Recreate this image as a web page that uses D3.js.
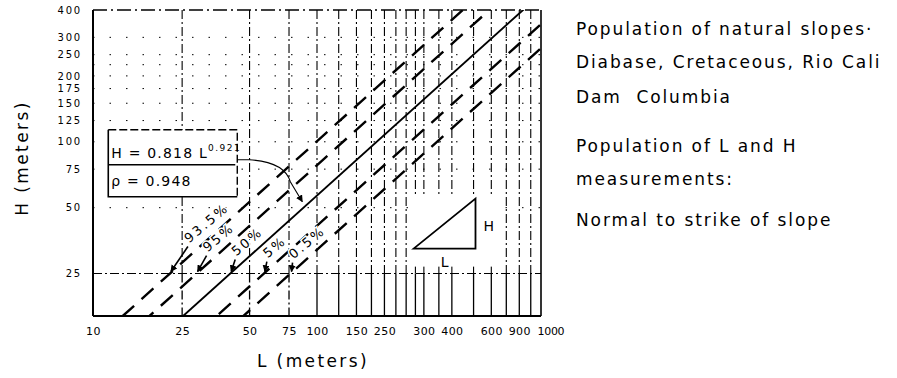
<!DOCTYPE html>
<html>
<head>
<meta charset="utf-8">
<script src="https://cdn.jsdelivr.net/npm/d3@7"></script>
<style>
  html, body { margin: 0; padding: 0; background: #fff; }
  svg { display: block; font-family: "DejaVu Sans", sans-serif; }
  .note { white-space: pre; }
</style>
</head>
<body>
<svg id="chart" width="897" height="378"></svg>
<script>
// -----------------------------
// Data
// -----------------------------
const FIT_COEF = 0.818;
const FIT_EXP = 0.921;
const FIT_RHO = 0.948;

// percentile lines as printed, and their factor on H relative to the 50% fit
const BAND_NAMES = ["93.5%", "95%", "50%", "5%", "0.5%"];
const BAND_FACTORS = [1.77, 1.375, 1, 1 / 1.375, 1 / 1.77];
const BAND_DASHED = [true, true, false, true, true];

// x tick positions (L) and the labels printed under them
const X_TICK_VALUES = [10, 25, 50, 75, 100, 150, 200, 300, 400, 600, 800, 1000];
const X_TICK_LABELS = ["10", "25", "50", "75", "100", "150", "250", "300", "400", "600", "900", "1000"];
const Y_TICK_VALUES = [25, 50, 75, 100, 125, 150, 175, 200, 250, 300, 400];

const GRID_L = [25, 50, 75, 100, 125, 150, 175, 200, 225, 250, 275, 300, 350, 400, 500, 600, 700, 800, 900];
const GRID_H = [50, 75, 100, 125, 150, 175, 200, 225, 250, 300];

const NOTES = [
  "Population of natural slopes·",
  "Diabase, Cretaceous, Rio Cali",
  "Dam  Columbia",
  "Population of L and H",
  "measurements:",
  "Normal to strike of slope",
];

// little L/H triangle sketch, in data units
const SKETCH_L = [270, 510];
const SKETCH_H = [32.5, 55];

// -----------------------------
// Layout
// -----------------------------
const svg = d3.select("#chart");
const plot = { left: 93, right: 541, top: 10, bottom: 316 };

const x = d3.scaleLog().domain([10, 1000]).range([plot.left, plot.right]);
const y = d3.scaleLog().domain([16, 400]).range([plot.bottom, plot.top]);

const DASH_DOT = "9,3,2,3";

const defs = svg.append("defs");
defs.append("clipPath").attr("id", "plotClip")
  .append("rect")
  .attr("x", plot.left).attr("y", plot.top)
  .attr("width", plot.right - plot.left).attr("height", plot.bottom - plot.top);

defs.append("marker")
  .attr("id", "arrowHead")
  .attr("viewBox", "0 0 10 10")
  .attr("refX", 9).attr("refY", 5)
  .attr("markerWidth", 7).attr("markerHeight", 7)
  .attr("markerUnits", "userSpaceOnUse")
  .attr("orient", "auto")
  .append("path")
  .attr("d", "M0,0 L10,5 L0,10 z")
  .attr("fill", "#000");

// -----------------------------
// Grid
// -----------------------------
const grid = svg.append("g").attr("stroke", "#000").attr("fill", "none");

grid.selectAll(".gh")
  .data(GRID_H)
  .join("line")
  .attr("x1", plot.left).attr("x2", plot.right)
  .attr("y1", (d) => y(d)).attr("y2", (d) => y(d))
  .attr("stroke-width", 1)
  .attr("stroke-dasharray", "1.5,15");

grid.selectAll(".gv")
  .data(GRID_L)
  .join("line")
  .attr("x1", (d) => x(d)).attr("x2", (d) => x(d))
  .attr("y1", plot.top).attr("y2", y(25))
  .attr("stroke-width", 1.1)
  .attr("stroke-dasharray", DASH_DOT);

grid.selectAll(".gvLow")
  .data(GRID_L)
  .join("line")
  .attr("x1", (d) => x(d)).attr("x2", (d) => x(d))
  .attr("y1", y(25)).attr("y2", plot.bottom)
  .attr("stroke-width", 1.3)
  .attr("stroke-dasharray", (d) => (d >= 100 ? null : DASH_DOT));

grid.append("line")
  .attr("x1", plot.left).attr("x2", plot.right)
  .attr("y1", y(25)).attr("y2", y(25))
  .attr("stroke-width", 1.1)
  .attr("stroke-dasharray", DASH_DOT);

// -----------------------------
// Frame
// -----------------------------
const frame = svg.append("g").attr("stroke", "#000").attr("fill", "none");
frame.append("line").attr("x1", plot.left).attr("x2", plot.left)
  .attr("y1", plot.top).attr("y2", plot.bottom).attr("stroke-width", 2);
frame.append("line").attr("x1", plot.left).attr("x2", plot.right)
  .attr("y1", plot.bottom).attr("y2", plot.bottom).attr("stroke-width", 2);
frame.append("line").attr("x1", plot.right).attr("x2", plot.right)
  .attr("y1", plot.top).attr("y2", plot.bottom).attr("stroke-width", 1.6);
frame.append("line").attr("x1", plot.left).attr("x2", plot.right)
  .attr("y1", plot.top).attr("y2", plot.top).attr("stroke-width", 1.4)
  .attr("stroke-dasharray", "14,4,2,4");

// -----------------------------
// Fit and percentile lines
// -----------------------------
const bands = BAND_NAMES.map((name, i) => ({
  name,
  k: BAND_FACTORS[i] * FIT_COEF,
  dashed: BAND_DASHED[i],
}));

const lineGen = d3.line().x((d) => x(d[0])).y((d) => y(d[1]));

svg.append("g")
  .attr("clip-path", "url(#plotClip)")
  .selectAll("path")
  .data(bands)
  .join("path")
  .attr("d", (b) => lineGen([5, 2000].map((L) => [L, b.k * Math.pow(L, FIT_EXP)])))
  .attr("fill", "none")
  .attr("stroke", "#000")
  .attr("stroke-width", (b) => (b.dashed ? 2.4 : 1.9))
  .attr("stroke-dasharray", (b) => (b.dashed ? "16,10" : null));

// labels with little arrows pointing at each line where H = 25
const LABEL_NUDGE = [[14, -14], [6, -5], [1, -1], [-1, 1], [-2, 2]];
const bandLabels = svg.append("g");
bands.forEach((b, i) => {
  const L25 = Math.pow(25 / b.k, 1 / FIT_EXP);
  const px = x(L25);
  const py = y(25);
  const [nx, ny] = LABEL_NUDGE[i];
  bandLabels.append("path")
    .attr("d", `M${px + nx + 4},${py + ny - 13} L${px + 1},${py - 2}`)
    .attr("fill", "none")
    .attr("stroke", "#000")
    .attr("stroke-width", 1.6)
    .attr("marker-end", "url(#arrowHead)");
  bandLabels.append("text")
    .attr("transform", `translate(${px + nx + 5},${py + ny - 16}) rotate(-40)`)
    .attr("font-size", 13)
    .attr("letter-spacing", 2.4)
    .attr("fill", "#000")
    .style("paint-order", "stroke")
    .style("stroke", "#fff")
    .style("stroke-width", 3)
    .text(b.name);
});

// -----------------------------
// Axes
// -----------------------------
const xAxis = d3.axisBottom(x)
  .tickValues(X_TICK_VALUES)
  .tickFormat((d, i) => X_TICK_LABELS[i])
  .tickSizeInner(0).tickSizeOuter(0).tickPadding(11);

svg.append("g")
  .attr("transform", `translate(0,${plot.bottom})`)
  .call(xAxis)
  .call((g) => g.select(".domain").remove())
  .call((g) => g.selectAll("text")
    .attr("font-family", "DejaVu Sans, sans-serif")
    .attr("font-size", 11)
    .attr("letter-spacing", 0.4)
    .attr("fill", "#000"))
  // the last label sits just right of the frame corner
  .call((g) => g.selectAll(".tick text").filter((d) => d === 1000)
    .attr("text-anchor", "start").attr("dx", -4).attr("letter-spacing", -0.3));

const yAxis = d3.axisLeft(y)
  .tickValues(Y_TICK_VALUES)
  .tickFormat(d3.format("d"))
  .tickSizeInner(0).tickSizeOuter(0).tickPadding(11);

svg.append("g")
  .attr("transform", `translate(${plot.left},0)`)
  .call(yAxis)
  .call((g) => g.select(".domain").remove())
  .call((g) => g.selectAll("text")
    .attr("font-family", "DejaVu Sans, sans-serif")
    .attr("font-size", 10)
    .attr("letter-spacing", 1.8)
    .attr("fill", "#000"));

svg.append("text")
  .attr("x", 313).attr("y", 367)
  .attr("text-anchor", "middle")
  .attr("font-size", 17)
  .attr("letter-spacing", 2.4)
  .text("L (meters)");

svg.append("text")
  .attr("transform", "translate(28,158) rotate(-90)")
  .attr("text-anchor", "middle")
  .attr("font-size", 17)
  .attr("letter-spacing", 2.4)
  .text("H (meters)");

// -----------------------------
// Equation box with curved pointer
// -----------------------------
const bx = x(11.7);
const by = y(113.5);
const bw = 129;
const bh = 67;
const box = svg.append("g").attr("transform", `translate(${bx},${by})`);

box.append("rect").attr("width", bw).attr("height", bh).attr("fill", "#fff");
box.append("path").attr("d", `M0,0 V${bh} H${bw}`)
  .attr("fill", "none").attr("stroke", "#000").attr("stroke-width", 1.6);
box.append("path").attr("d", `M0,0 H${bw} V${bh}`)
  .attr("fill", "none").attr("stroke", "#000").attr("stroke-width", 1.4)
  .attr("stroke-dasharray", "8,3");
box.append("line").attr("x1", 0).attr("x2", bw - 2)
  .attr("y1", 35).attr("y2", 35)
  .attr("stroke", "#000").attr("stroke-width", 1.4);

const eq = box.append("text")
  .attr("x", 3).attr("y", 28)
  .attr("font-size", 14)
  .attr("letter-spacing", 1.2);
eq.append("tspan").text(`H = ${FIT_COEF} L`);
eq.append("tspan").attr("dy", -7).attr("font-size", 9).attr("letter-spacing", 1.5).text(String(FIT_EXP));

box.append("text")
  .attr("x", 3).attr("y", 56)
  .attr("font-size", 14)
  .attr("letter-spacing", 1.2)
  .text(`ρ = ${FIT_RHO}`);

// pointer from the box to the 50% line
const tipL = 86;
const tipX = x(tipL);
const tipY = y(FIT_COEF * Math.pow(tipL, FIT_EXP)) - 7;
const sx = bx + bw;
const sy = by + 30;
svg.append("path")
  .attr("d", `M${sx},${sy} H${sx + 12} Q${tipX - 18},${sy + 2} ${tipX - 12},${tipY - 20} L${tipX},${tipY}`)
  .attr("fill", "none")
  .attr("stroke", "#000")
  .attr("stroke-width", 1.1)
  .attr("marker-end", "url(#arrowHead)");

// -----------------------------
// L / H sketch
// -----------------------------
const sk = { x0: x(SKETCH_L[0]), x1: x(SKETCH_L[1]), y0: y(SKETCH_H[0]), y1: y(SKETCH_H[1]) };
svg.append("rect")
  .attr("x", sk.x0 - 4).attr("y", sk.y1 - 4)
  .attr("width", sk.x1 - sk.x0 + 30).attr("height", sk.y0 - sk.y1 + 22)
  .attr("fill", "#fff");
svg.append("path")
  .attr("d", `M${sk.x0},${sk.y0} L${sk.x1},${sk.y1} L${sk.x1},${sk.y0} Z`)
  .attr("fill", "none")
  .attr("stroke", "#000")
  .attr("stroke-width", 1.8);
svg.append("text")
  .attr("x", sk.x1 + 8).attr("y", (sk.y0 + sk.y1) / 2 + 7)
  .attr("font-size", 14)
  .text("H");
svg.append("text")
  .attr("x", (sk.x0 + sk.x1) / 2).attr("y", sk.y0 + 18)
  .attr("text-anchor", "middle")
  .attr("font-size", 14)
  .text("L");

// -----------------------------
// Notes on the right
// -----------------------------
const NOTE_BASELINES = [35, 68, 103, 152, 185, 226];
svg.append("g")
  .selectAll("text")
  .data(NOTES)
  .join("text")
  .attr("class", "note")
  .attr("x", 576)
  .attr("y", (d, i) => NOTE_BASELINES[i])
  .attr("font-size", 17)
  .attr("letter-spacing", 1.9)
  .attr("fill", "#000")
  .text((d) => d);
</script>
</body>
</html>
